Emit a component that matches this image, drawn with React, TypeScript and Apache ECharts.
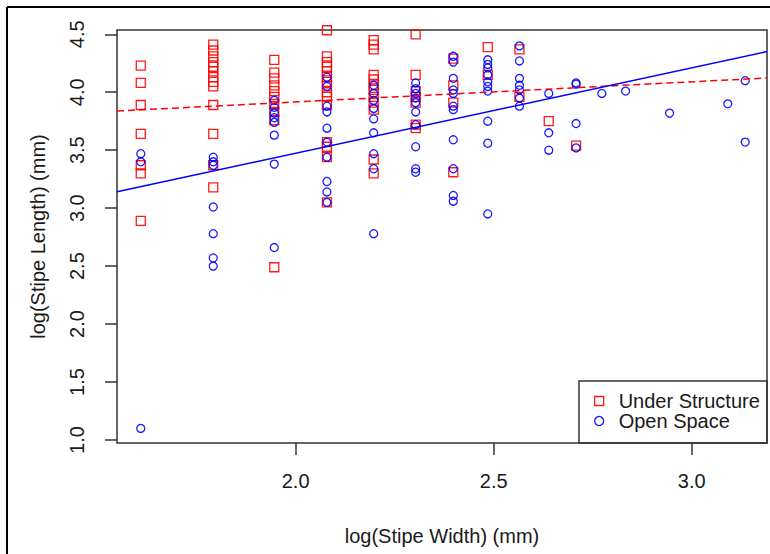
import React, { useEffect, useRef } from "react";
import * as echarts from "echarts";

// log(Stipe Width) values (one per column of points)
const widths = [1.609, 1.792, 1.946, 2.079, 2.197, 2.303, 2.398, 2.485, 2.565, 2.639, 2.708, 2.773, 2.833, 2.944, 3.091, 3.135];

// log(Stipe Length) values of "Under Structure" per width column
const underLengths: number[][] = [
  [4.23, 4.08, 3.89, 3.64, 3.37, 3.3, 2.89],
  [4.41, 4.36, 4.31, 4.26, 4.22, 4.18, 4.13, 4.09, 4.05, 3.89, 3.64, 3.37, 3.18],
  [4.28, 4.17, 4.12, 4.06, 4.01, 3.96, 3.9, 3.83, 3.76, 2.49],
  [4.535, 4.31, 4.26, 4.22, 4.18, 4.13, 4.09, 4.05, 4.0, 3.96, 3.89, 3.57, 3.53, 3.44, 3.05],
  [4.45, 4.41, 4.37, 4.15, 4.11, 4.06, 4.02, 3.96, 3.91, 3.85, 3.42, 3.3],
  [4.5, 4.15, 4.01, 3.96, 3.91, 3.72, 3.69],
  [4.29, 4.06, 3.91, 3.31],
  [4.39, 4.15],
  [4.37, 3.96],
  [3.75],
  [3.54],
  [],
  [],
  [],
  [],
  [],
];

// log(Stipe Length) values of "Open Space" per width column
const openLengths: number[][] = [
  [3.47, 3.4, 1.1],
  [3.44, 3.4, 3.37, 3.01, 2.78, 2.57, 2.5],
  [3.93, 3.87, 3.82, 3.78, 3.74, 3.63, 3.38, 2.66],
  [4.13, 4.05, 3.88, 3.83, 3.69, 3.57, 3.44, 3.23, 3.14, 3.05],
  [4.06, 3.99, 3.93, 3.86, 3.77, 3.65, 3.47, 3.34, 2.78],
  [4.08, 4.03, 3.99, 3.95, 3.91, 3.83, 3.72, 3.53, 3.34, 3.31],
  [4.31, 4.26, 4.12, 4.02, 3.99, 3.88, 3.85, 3.59, 3.34, 3.11, 3.06],
  [4.28, 4.24, 4.21, 4.15, 4.09, 4.05, 4.01, 3.75, 3.56, 2.95],
  [4.4, 4.27, 4.12, 4.06, 4.02, 3.95, 3.88],
  [3.99, 3.65, 3.5],
  [4.08, 4.07, 3.73, 3.52],
  [3.99],
  [4.01],
  [3.82],
  [3.9],
  [4.1, 3.57],
];

// fitted regression lines (end points across the plot range)
const underFit: number[][] = [[1.549, 3.838], [3.19, 4.123]];
const openFit: number[][] = [[1.549, 3.142], [3.19, 4.351]];

const xTicks = [2.0, 2.5, 3.0];
const yTicks = [1.0, 1.5, 2.0, 2.5, 3.0, 3.5, 4.0, 4.5];
const xRange = [1.549, 3.19];
const yRange = [0.974, 4.537];

const seriesNames = ["Under Structure", "Open Space"];

function toPoints(lengths: number[][]): number[][] {
  const pts: number[][] = [];
  lengths.forEach((col, i) => col.forEach((v) => pts.push([widths[i], v])));
  return pts;
}

const FONT = "'Liberation Sans', Arial, sans-serif";
const AXIS_COLOR = "#333333";
const TEXT_COLOR = "#1a1a1a";

export default function App() {
  const ref = useRef<HTMLDivElement>(null);

  useEffect(() => {
    document.body.style.margin = "0";
    if (!ref.current) return;
    const chart = echarts.init(ref.current, undefined, { renderer: "svg" });
    const axisCommon = {
      type: "value" as const,
      axisLine: { show: false },
      splitLine: { show: false },
      axisTick: {
        show: true,
        inside: false,
        length: 12,
        lineStyle: { color: AXIS_COLOR, width: 1.5 },
      },
      nameTextStyle: { fontFamily: FONT, fontSize: 20, color: TEXT_COLOR },
    };
    chart.setOption({
      animation: false,
      backgroundColor: "#ffffff",
      grid: {
        left: 117,
        right: 3,
        top: 30,
        bottom: 111,
        show: true,
        borderColor: AXIS_COLOR,
        borderWidth: 1.5,
        backgroundColor: "transparent",
      },
      xAxis: {
        ...axisCommon,
        min: xRange[0],
        max: xRange[1],
        name: "log(Stipe Width) (mm)",
        nameLocation: "middle",
        nameGap: 83,
        axisTick: { ...axisCommon.axisTick, customValues: xTicks },
        axisLabel: {
          customValues: xTicks,
          formatter: (v: number) => v.toFixed(1),
          margin: 28,
          fontFamily: FONT,
          fontSize: 20,
          color: TEXT_COLOR,
        },
      },
      yAxis: {
        ...axisCommon,
        min: yRange[0],
        max: yRange[1],
        name: "log(Stipe Length) (mm)",
        nameLocation: "middle",
        nameGap: 69,
        axisTick: { ...axisCommon.axisTick, customValues: yTicks },
        axisLabel: {
          customValues: yTicks,
          formatter: (v: number) => v.toFixed(1),
          rotate: 90,
          margin: 30,
          fontFamily: FONT,
          fontSize: 20,
          color: TEXT_COLOR,
        },
      },
      legend: {
        orient: "vertical",
        left: 594,
        top: 391,
        itemWidth: 9,
        itemHeight: 9,
        itemGap: 0,
        padding: 0,
        selectedMode: false,
        formatter: (name: string) => `{t|${name}}`,
        textStyle: {
          rich: {
            t: {
              fontFamily: FONT,
              fontSize: 20,
              lineHeight: 21,
              color: TEXT_COLOR,
              padding: [0, 0, 0, 10],
            },
          },
        },
        data: [
          {
            name: seriesNames[0],
            icon: "rect",
            itemStyle: { color: "transparent", borderColor: "#ff0000", borderWidth: 1.3 },
          },
          {
            name: seriesNames[1],
            icon: "circle",
            itemStyle: { color: "transparent", borderColor: "#0000ff", borderWidth: 1.3 },
          },
        ],
      },
      graphic: [
        {
          type: "line",
          shape: { x1: 7, y1: 7, x2: 7, y2: 554 },
          style: { stroke: "#000000", lineWidth: 2 },
        },
        {
          type: "line",
          shape: { x1: 7, y1: 7, x2: 770, y2: 7 },
          style: { stroke: "#000000", lineWidth: 2 },
        },
        {
          type: "rect",
          shape: { x: 579, y: 381, width: 188, height: 62 },
          style: { fill: "none", stroke: AXIS_COLOR, lineWidth: 1.5 },
        },
      ],
      series: [
        {
          name: seriesNames[0],
          type: "scatter",
          symbol: "rect",
          symbolSize: 9,
          clip: false,
          data: toPoints(underLengths),
          itemStyle: { color: "transparent", borderColor: "#ff0000", borderWidth: 1.3, opacity: 0.9 },
          z: 2,
        },
        {
          name: seriesNames[1],
          type: "scatter",
          symbol: "circle",
          symbolSize: 8,
          clip: false,
          data: toPoints(openLengths),
          itemStyle: { color: "transparent", borderColor: "#0000ff", borderWidth: 1.3, opacity: 0.9 },
          z: 3,
        },
        {
          name: "underFit",
          type: "line",
          data: underFit,
          symbol: "none",
          lineStyle: { color: "#ff0000", width: 1.5, type: [7, 4] },
          z: 4,
        },
        {
          name: "openFit",
          type: "line",
          data: openFit,
          symbol: "none",
          lineStyle: { color: "#0000ff", width: 1.5, type: "solid" },
          z: 5,
        },
      ],
    });
    return () => chart.dispose();
  }, []);

  return (
    <div
      ref={ref}
      style={{ position: "absolute", left: 0, top: 0, width: 770, height: 554, background: "#fff" }}
    />
  );
}
